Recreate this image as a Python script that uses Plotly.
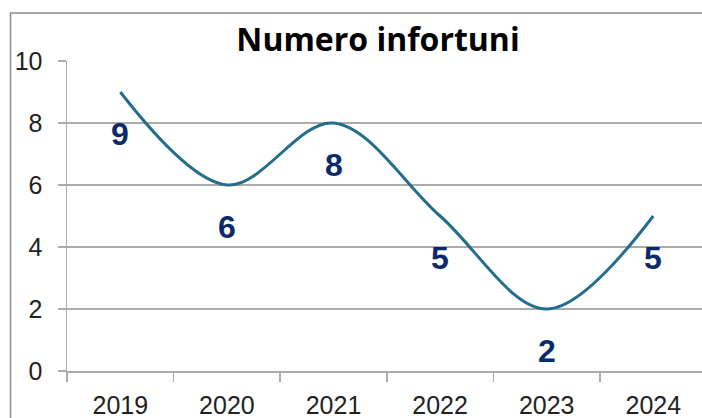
import plotly.graph_objects as go

years = ["2019", "2020", "2021", "2022", "2023", "2024"]
infortuni = [9, 6, 8, 5, 2, 5]
y_ticks = [0, 2, 4, 6, 8, 10]

W, H = 702, 418
L, T, B = 67, 61, 47
plot_w = W - L
plot_h = H - T - B
cat_w = 106.6

fig = go.Figure()
fig.add_trace(go.Scatter(
    x=years, y=infortuni, mode="lines",
    line=dict(color="#236E8C", width=3, shape="spline", smoothing=1.0),
    hoverinfo="skip", cliponaxis=False,
))

for i, v in enumerate(infortuni):
    fig.add_annotation(
        x=i, y=v, xref="x", yref="y", text="<b>%d</b>" % v, showarrow=False, yshift=-42,
        font=dict(family="Liberation Sans", size=32, color="#0B2A6B"),
    )

x_right = plot_w / cat_w - 0.5
fig.update_xaxes(
    type="category", range=[-0.5, x_right],
    showline=True, linecolor="#ababab", linewidth=1.5,
    ticks="outside", tickson="boundaries", ticklen=9, tickcolor="#ababab", tickwidth=1.5,
    showgrid=False, zeroline=False, automargin=False,
    tickfont=dict(family="Liberation Sans", size=25, color="#222222"),
    ticklabelstandoff=11,
)
fig.update_yaxes(
    range=[0, 10], tickvals=y_ticks, automargin=False,
    showline=True, linecolor="#ababab", linewidth=1.5,
    ticks="outside", ticklen=8, tickcolor="#ababab", tickwidth=1.5,
    showgrid=True, gridcolor="#ababab", gridwidth=1.5, zeroline=False,
    tickfont=dict(family="Liberation Sans", size=25, color="#222222"),
    ticklabelstandoff=10,
)

fig.add_shape(
    type="rect", xref="paper", yref="paper",
    x0=(10.5 - L) / plot_w, x1=2, y0=-2, y1=(H - B - 13) / plot_h,
    line=dict(color="#8c8c8c", width=1.5), layer="below",
)

fig.update_layout(
    width=W, height=H,
    margin=dict(l=L, r=0, t=T, b=B, pad=0),
    paper_bgcolor="white", plot_bgcolor="white",
    showlegend=False,
    title=dict(
        text="<b>Numero infortuni</b>",
        font=dict(family="Open Sans", size=32, color="#000000"),
        x=378 / W, xanchor="center", xref="container",
        y=1 - 40 / H, yanchor="middle", yref="container",
    ),
)

fig.write_html(
    "out.html",
    config={"displayModeBar": False, "staticPlot": True},
    post_script="document.body.style.margin='0';document.body.style.overflow='hidden';",
)
